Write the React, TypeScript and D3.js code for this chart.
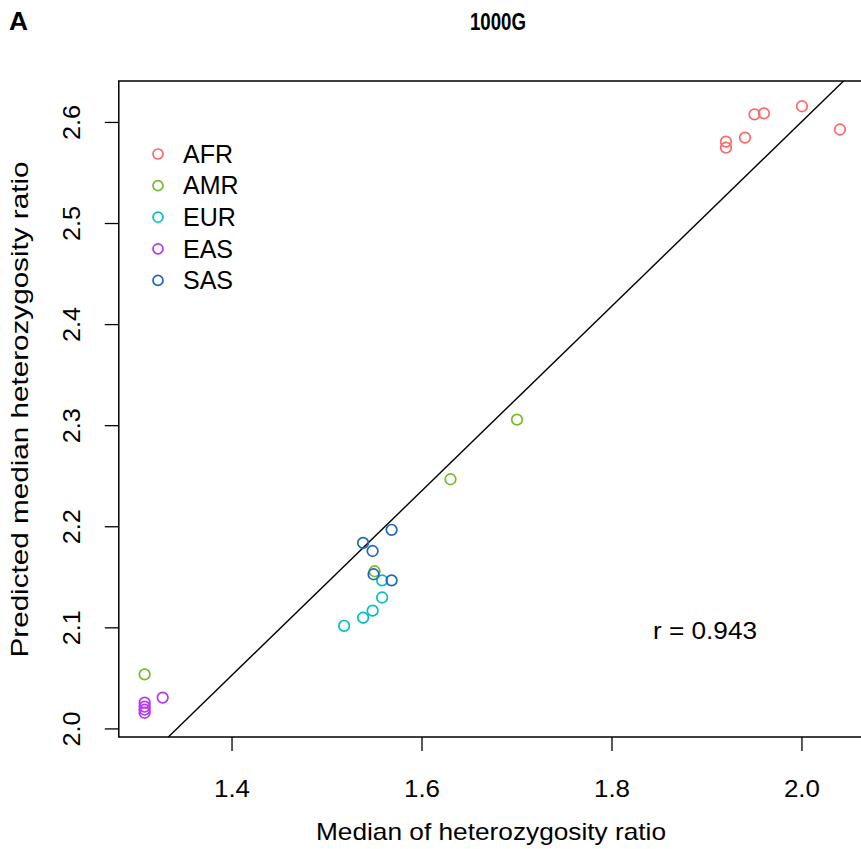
import React from "react";
import * as d3 from "d3";

const groups = ["AFR", "AMR", "EUR", "EAS", "SAS"];
const groupColors = ["#FA6A6A", "#76BA2E", "#00C0C0", "#B437F5", "#1C66C4"];

const afrX = [1.92, 1.92, 1.94, 1.95, 1.96, 2.0, 2.04];
const afrY = [2.581, 2.575, 2.585, 2.608, 2.609, 2.616, 2.593];
const amrX = [1.308, 1.7, 1.63, 1.55];
const amrY = [2.054, 2.306, 2.247, 2.156];
const eurX = [1.558, 1.558, 1.548, 1.538, 1.518];
const eurY = [2.147, 2.13, 2.117, 2.11, 2.102];
const easX = [1.327, 1.308, 1.308, 1.308, 1.308];
const easY = [2.031, 2.026, 2.022, 2.019, 2.016];
const sasX = [1.568, 1.538, 1.548, 1.549, 1.568];
const sasY = [2.197, 2.184, 2.176, 2.153, 2.147];

const xTicks = [1.4, 1.6, 1.8, 2.0];
const yTicks = [2.0, 2.1, 2.2, 2.3, 2.4, 2.5, 2.6];
const fitIntercept = 0.775;
const fitSlope = 0.913;
const rLabel = "r = 0.943";

const seriesX = [afrX, amrX, eurX, easX, sasX];
const seriesY = [afrY, amrY, eurY, easY, sasY];

export default function App() {
  const W = 861, H = 849;
  const left = 118.8, right = 867.7, top = 81, bottom = 737;
  const x = d3.scaleLinear().domain([1.2808, 2.0692]).range([left, right]);
  const y = d3.scaleLinear().domain([1.992, 2.641]).range([bottom, top]);
  const font = "'Liberation Sans', Arial, sans-serif";

  const lineX0 = 1.2808, lineX1 = 2.0692;
  const fitLine = d3.line<number>()
    .x((v) => x(v))
    .y((v) => y(fitIntercept + fitSlope * v));

  return (
    <svg width={W} height={H} style={{ position: "absolute", left: 0, top: 0, background: "#fff" }} fontFamily={font}>
      <defs>
        <clipPath id="plotClip">
          <rect x={left} y={top} width={right - left} height={bottom - top} />
        </clipPath>
      </defs>
      <rect x={0} y={0} width={W} height={H} fill="#fff" />
      <text x={9} y={30} fontSize={25} fontWeight="bold" textLength={19} lengthAdjust="spacingAndGlyphs">A</text>
      <text x={470} y={30} fontSize={24} fontWeight="bold" textLength={56} lengthAdjust="spacingAndGlyphs">1000G</text>

      <rect x={left} y={top} width={right - left} height={bottom - top} fill="none" stroke="#000" strokeWidth={1.5} />

      {xTicks.map((t) => (
        <g key={"x" + t}>
          <line x1={x(t)} x2={x(t)} y1={bottom} y2={bottom + 14} stroke="#000" strokeWidth={1.3} />
          <text x={x(t) - 18} y={797} fontSize={24} textLength={36} lengthAdjust="spacingAndGlyphs">{t.toFixed(1)}</text>
        </g>
      ))}
      {yTicks.map((t) => (
        <g key={"y" + t}>
          <line x1={left} x2={left - 14} y1={y(t)} y2={y(t)} stroke="#000" strokeWidth={1.3} />
          <text transform={`translate(80,${y(t) + 17.5}) rotate(-90)`} fontSize={24} textLength={35} lengthAdjust="spacingAndGlyphs">{t.toFixed(1)}</text>
        </g>
      ))}

      <text x={316} y={840} fontSize={24} textLength={350} lengthAdjust="spacingAndGlyphs">Median of heterozygosity ratio</text>
      <text transform={`translate(28,${409.5 + 248}) rotate(-90)`} fontSize={24} textLength={496} lengthAdjust="spacingAndGlyphs">
        Predicted median heterozygosity ratio
      </text>

      <path d={fitLine([lineX0, lineX1]) || ""} stroke="#000" strokeWidth={1.4} fill="none" clipPath="url(#plotClip)" />

      {seriesX.map((xs, gi) =>
        xs.map((v, i) => (
          <circle key={gi + "-" + i} cx={x(v)} cy={y(seriesY[gi][i])} r={5.3} fill="none" stroke={groupColors[gi]} strokeWidth={1.7} />
        ))
      )}

      {groups.map((g, i) => {
        const cy = 154 + i * 31.6;
        return (
          <g key={g}>
            <circle cx={158} cy={cy} r={5} fill="none" stroke={groupColors[i]} strokeWidth={1.7} />
            <text x={183} y={cy + 8.8} fontSize={25}>{g}</text>
          </g>
        );
      })}

      <text x={653} y={639} fontSize={23} textLength={104} lengthAdjust="spacingAndGlyphs">{rLabel}</text>
    </svg>
  );
}
